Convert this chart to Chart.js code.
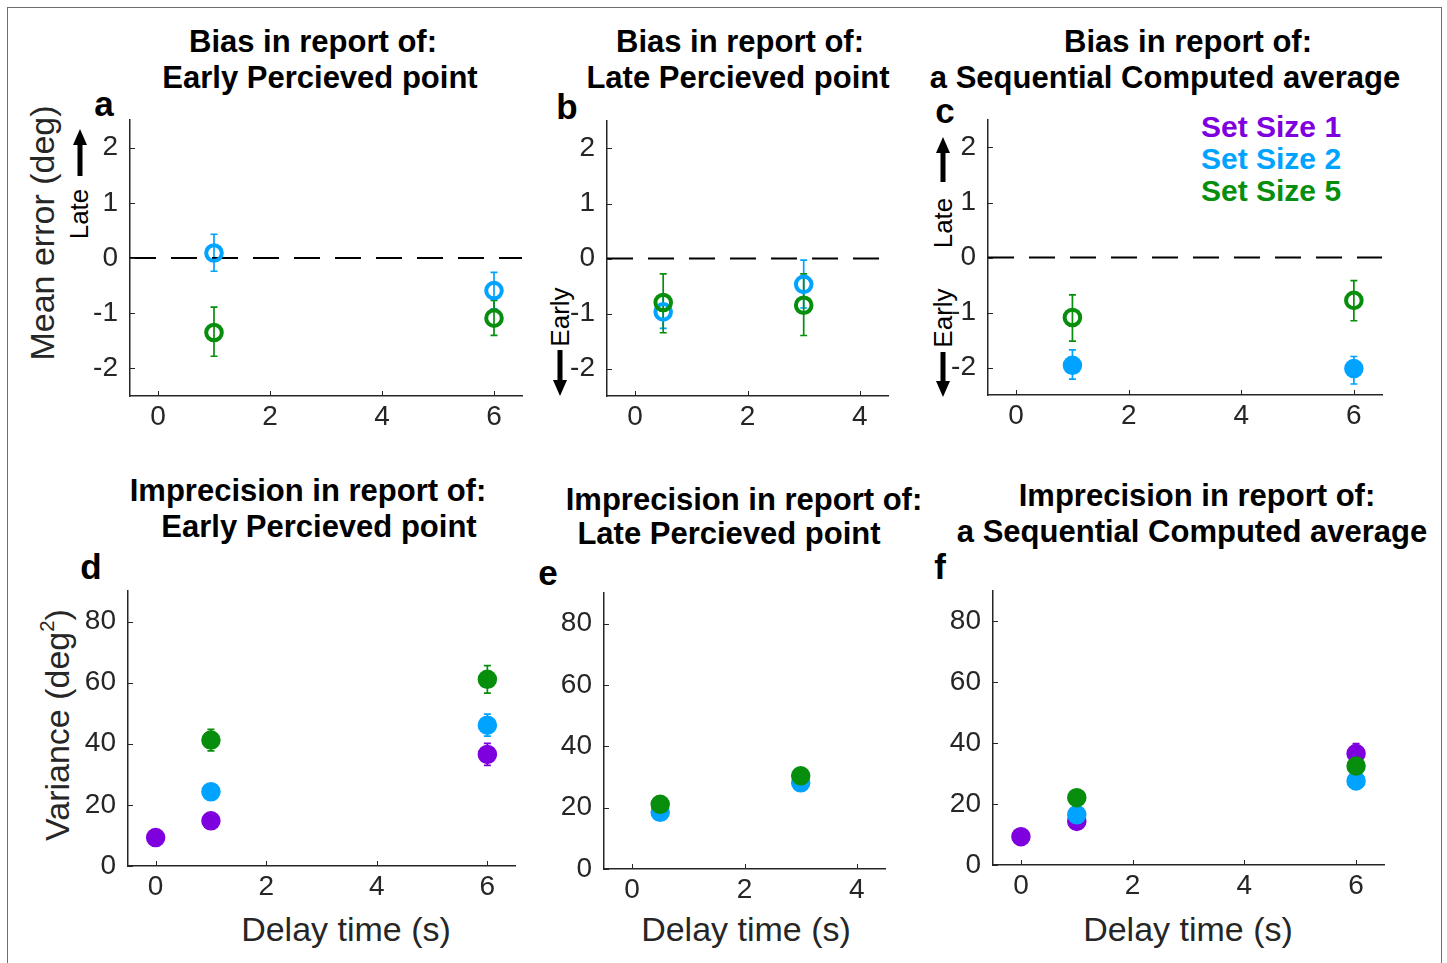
<!DOCTYPE html>
<html>
<head>
<meta charset="utf-8">
<title>Bias and imprecision in report</title>
<script src="https://cdn.jsdelivr.net/npm/chart.js@4.4.1/dist/chart.umd.min.js"></script>
<style>
  html, body { margin: 0; padding: 0; background: #fff; }
  body { width: 1447px; height: 963px; position: relative; overflow: hidden;
         font-family: "Liberation Sans", Arial, sans-serif; color: #000; }
  .frame { position: absolute; left: 7px; top: 7px; width: 1433px; height: 990px; border: 1.5px solid #6e6e6e; }
  .panel { position: absolute; }
  .txt { position: absolute; white-space: nowrap; line-height: 1; transform: translate(-50%, -50%); }
  .title { font-size: 31px; font-weight: bold; }
  .letter { font-size: 35px; font-weight: bold; }
  .axt { font-size: 34px; color: #262626; }
  .rot { transform: translate(-50%, -50%) rotate(-90deg); }
  .dir { font-size: 26px; color: #000; }
  .leg { position: absolute; font-size: 30px; font-weight: bold; line-height: 1; white-space: nowrap; transform: translateY(-50%); }
  sup { font-size: 0.6em; vertical-align: 0.75em; line-height: 0; }
  svg.arrow { position: absolute; overflow: visible; }
</style>
</head>
<body>
<div class="frame"></div>

<!-- top row titles -->
<div class="txt title" style="left:313px; top:41px;">Bias in report of:</div>
<div class="txt title" style="left:320px; top:77px;">Early Percieved point</div>
<div class="txt title" style="left:740px; top:41px;">Bias in report of:</div>
<div class="txt title" style="left:738px; top:77px;">Late Percieved point</div>
<div class="txt title" style="left:1188px; top:41px;">Bias in report of:</div>
<div class="txt title" style="left:1165px; top:77px;">a Sequential Computed average</div>

<!-- bottom row titles -->
<div class="txt title" style="left:308px; top:490px;">Imprecision in report of:</div>
<div class="txt title" style="left:319px; top:526px;">Early Percieved point</div>
<div class="txt title" style="left:744px; top:499px;">Imprecision in report of:</div>
<div class="txt title" style="left:729px; top:533px;">Late Percieved point</div>
<div class="txt title" style="left:1197px; top:495px;">Imprecision in report of:</div>
<div class="txt title" style="left:1192px; top:531px;">a Sequential Computed average</div>

<!-- panel letters -->
<div class="txt letter" style="left:104px; top:103px;">a</div>
<div class="txt letter" style="left:567px; top:106px;">b</div>
<div class="txt letter" style="left:945px; top:110px;">c</div>
<div class="txt letter" style="left:91px; top:566px;">d</div>
<div class="txt letter" style="left:548px; top:572px;">e</div>
<div class="txt letter" style="left:940px; top:566px;">f</div>

<!-- axis titles -->
<div class="txt axt rot" style="left:42px; top:233px;">Mean error (deg)</div>
<div class="txt axt rot" style="left:57px; top:725px;">Variance (deg<sup>2</sup>)</div>
<div class="txt axt" style="left:346px; top:929px;">Delay time (s)</div>
<div class="txt axt" style="left:746px; top:929px;">Delay time (s)</div>
<div class="txt axt" style="left:1188px; top:929px;">Delay time (s)</div>

<!-- direction labels -->
<div class="txt dir rot" style="left:79px; top:214px;">Late</div>
<div class="txt dir rot" style="left:560px; top:317px;">Early</div>
<div class="txt dir rot" style="left:943px; top:223px;">Late</div>
<div class="txt dir rot" style="left:943px; top:318px;">Early</div>

<!-- legend -->
<div class="leg" style="left:1201px; top:127px; color:#7f00df;">Set Size 1</div>
<div class="leg" style="left:1201px; top:159px; color:#00a3ff;">Set Size 2</div>
<div class="leg" style="left:1201px; top:191px; color:#078e0c;">Set Size 5</div>

<div class="panel" id="pa"><canvas></canvas></div>
<div class="panel" id="pb"><canvas></canvas></div>
<div class="panel" id="pc"><canvas></canvas></div>
<div class="panel" id="pd"><canvas></canvas></div>
<div class="panel" id="pe"><canvas></canvas></div>
<div class="panel" id="pf"><canvas></canvas></div>

<script>
// ---- data ----
const BIAS_Y_TICKS = [-2, -1, 0, 1, 2];
const VAR_Y_TICKS  = [0, 20, 40, 60, 80];
const X_TICKS_6 = [0, 2, 4, 6];
const X_TICKS_4 = [0, 2, 4];

// a: bias, early perceived point
const aDelay   = [1, 6];
const aSize2   = [0.09, -0.59];
const aSize2Lo = [-0.24, -0.92];
const aSize2Hi = [0.43, -0.26];
const aSize5   = [-1.35, -1.09];
const aSize5Lo = [-1.78, -1.40];
const aSize5Hi = [-0.89, -0.77];

// b: bias, late perceived point
const bDelay   = [0.5, 3];
const bSize2   = [-0.97, -0.47];
const bSize2Lo = [-1.27, -0.90];
const bSize2Hi = [-0.67, -0.03];
const bSize5   = [-0.80, -0.85];
const bSize5Lo = [-1.35, -1.40];
const bSize5Hi = [-0.28, -0.28];

// c: bias, sequential computed average
const cDelay   = [1, 6];
const cSize2   = [-1.96, -2.02];
const cSize2Lo = [-2.21, -2.30];
const cSize2Hi = [-1.68, -1.80];
const cSize5   = [-1.09, -0.78];
const cSize5Lo = [-1.52, -1.15];
const cSize5Hi = [-0.68, -0.42];

// d: variance, early perceived point
const dDelay1  = [0, 1, 6];
const dSize1   = [9.3, 14.8, 36.5];
const dSize1Er = [1.0, 1.5, 3.6];
const dDelay   = [1, 6];
const dSize2   = [24.3, 46.1];
const dSize2Er = [1.5, 3.6];
const dSize5   = [41.2, 61.1];
const dSize5Er = [3.5, 4.5];

// e: variance, late perceived point
const eDelay   = [0.5, 3];
const eSize2   = [18.5, 28.1];
const eSize2Er = [1.2, 1.5];
const eSize5   = [21.1, 30.4];
const eSize5Er = [1.2, 1.5];

// f: variance, sequential computed average
const fDelay1  = [0, 1, 6];
const fSize1   = [9.3, 14.3, 36.6];
const fSize1Er = [1.0, 1.5, 3.3];
const fDelay   = [1, 6];
const fSize2   = [16.5, 27.6];
const fSize2Er = [1.5, 2.0];
const fSize5   = [22.1, 32.5];
const fSize5Er = [1.5, 2.5];

// ---- styling ----
const PURPLE = "#7f00df", BLUE = "#00a3ff", GREEN = "#078e0c";
const INK = "#262626";
const FONT = "Liberation Sans";

const pts = (xs, ys) => xs.map((x, i) => ({ x, y: ys[i] }));
const minus = (ys, es) => ys.map((v, i) => v - es[i]);
const plus  = (ys, es) => ys.map((v, i) => v + es[i]);

function series(xs, ys, lo, hi, color, filled, order) {
  return {
    data: pts(xs, ys), errLo: lo, errHi: hi, order,
    borderColor: color,
    backgroundColor: filled ? color : "rgba(0,0,0,0)",
    pointBackgroundColor: filled ? color : "rgba(0,0,0,0)",
    pointBorderColor: color,
    pointRadius: filled ? 9 : 7.8,
    pointBorderWidth: filled ? 1.5 : 4,
    pointHoverRadius: filled ? 9 : 7.8,
    showLine: false,
  };
}

function zeroLine(xMin, xMax) {
  return {
    type: "line", order: 10,
    data: [{ x: xMin, y: 0 }, { x: xMax, y: 0 }],
    borderColor: "#000", borderWidth: 2, borderDash: [26, 15],
    pointRadius: 0, fill: false,
  };
}

// error bars, drawn under the markers
const errorBars = {
  id: "errorBars",
  beforeDatasetsDraw(chart) {
    const { ctx, scales: { x, y } } = chart;
    chart.data.datasets.forEach(ds => {
      if (!ds.errLo) return;
      ctx.save();
      ctx.strokeStyle = ds.borderColor;
      ctx.lineWidth = 1.7;
      ds.data.forEach((p, i) => {
        const px = x.getPixelForValue(p.x);
        const lo = y.getPixelForValue(ds.errLo[i]);
        const hi = y.getPixelForValue(ds.errHi[i]);
        ctx.beginPath();
        ctx.moveTo(px, lo); ctx.lineTo(px, hi);
        ctx.moveTo(px - 3.5, lo); ctx.lineTo(px + 3.5, lo);
        ctx.moveTo(px - 3.5, hi); ctx.lineTo(px + 3.5, hi);
        ctx.stroke();
      });
      ctx.restore();
    });
  }
};

// matlab-style tick marks pointing into the axes
const inwardTicks = {
  id: "inwardTicks",
  afterDraw(chart) {
    const { ctx, chartArea: a, scales: { x, y } } = chart;
    ctx.save();
    ctx.strokeStyle = INK;
    ctx.lineWidth = 1;
    ctx.beginPath();
    x.ticks.forEach(t => {
      const px = Math.round(x.getPixelForValue(t.value)) + 0.5;
      ctx.moveTo(px, a.bottom); ctx.lineTo(px, a.bottom - 5);
    });
    y.ticks.forEach(t => {
      const py = Math.round(y.getPixelForValue(t.value)) + 0.5;
      ctx.moveTo(a.left, py); ctx.lineTo(a.left + 5, py);
    });
    ctx.stroke();
    ctx.restore();
  }
};

function makePanel(id, box, xr, yr, xTicks, yTicks, datasets) {
  const padL = 70, padT = 12, padR = 16, padB = 48;
  const wrap = document.getElementById(id);
  wrap.style.left = (box.L - padL) + "px";
  wrap.style.top = (box.T - padT) + "px";
  wrap.style.width = (box.R - box.L + padL + padR) + "px";
  wrap.style.height = (box.B - box.T + padT + padB) + "px";

  const tickFont = { family: FONT, size: 28 };
  return new Chart(wrap.querySelector("canvas"), {
    type: "scatter",
    data: { datasets },
    options: {
      responsive: true,
      maintainAspectRatio: false,
      animation: false,
      events: [],
      layout: { autoPadding: false, padding: { left: 0, top: padT, right: padR, bottom: 0 } },
      plugins: { legend: { display: false }, tooltip: { enabled: false } },
      scales: {
        x: {
          type: "linear", min: xr[0], max: xr[1],
          afterBuildTicks: s => { s.ticks = xTicks.map(v => ({ value: v })); },
          afterFit: s => { s.height = padB; s.paddingLeft = 0; s.paddingRight = 0; },
          grid: { display: false, drawTicks: false },
          border: { display: true, color: INK, width: 1.5 },
          ticks: { color: INK, font: tickFont, padding: 4, maxRotation: 0, autoSkip: false },
        },
        y: {
          type: "linear", min: yr[0], max: yr[1],
          afterBuildTicks: s => { s.ticks = yTicks.map(v => ({ value: v })); },
          afterFit: s => { s.width = padL; s.paddingTop = 0; s.paddingBottom = 0; },
          grid: { display: false, drawTicks: false },
          border: { display: true, color: INK, width: 1.5 },
          ticks: { color: INK, font: tickFont, padding: 12, autoSkip: false },
        },
      },
    },
    plugins: [errorBars, inwardTicks],
  });
}

// ---- panels ----
makePanel("pa", { L: 130, T: 120, R: 522, B: 396 }, [-0.5, 6.5], [-2.5, 2.5], X_TICKS_6, BIAS_Y_TICKS, [
  zeroLine(-0.5, 6.5),
  series(aDelay, aSize2, aSize2Lo, aSize2Hi, BLUE, false, 2),
  series(aDelay, aSize5, aSize5Lo, aSize5Hi, GREEN, false, 1),
]);

makePanel("pb", { L: 607, T: 121, R: 888, B: 396 }, [-0.5, 4.5], [-2.5, 2.5], X_TICKS_4, BIAS_Y_TICKS, [
  zeroLine(-0.5, 4.35),
  series(bDelay, bSize2, bSize2Lo, bSize2Hi, BLUE, false, 2),
  series(bDelay, bSize5, bSize5Lo, bSize5Hi, GREEN, false, 1),
]);

makePanel("pc", { L: 988, T: 120, R: 1382, B: 395 }, [-0.5, 6.5], [-2.5, 2.5], X_TICKS_6, BIAS_Y_TICKS, [
  zeroLine(-0.5, 6.5),
  series(cDelay, cSize2, cSize2Lo, cSize2Hi, BLUE, true, 2),
  series(cDelay, cSize5, cSize5Lo, cSize5Hi, GREEN, false, 1),
]);

makePanel("pd", { L: 128, T: 591, R: 515, B: 866 }, [-0.5, 6.5], [0, 90], X_TICKS_6, VAR_Y_TICKS, [
  series(dDelay1, dSize1, minus(dSize1, dSize1Er), plus(dSize1, dSize1Er), PURPLE, true, 3),
  series(dDelay, dSize2, minus(dSize2, dSize2Er), plus(dSize2, dSize2Er), BLUE, true, 2),
  series(dDelay, dSize5, minus(dSize5, dSize5Er), plus(dSize5, dSize5Er), GREEN, true, 1),
]);

makePanel("pe", { L: 604, T: 593, R: 885, B: 869 }, [-0.5, 4.5], [0, 90], X_TICKS_4, VAR_Y_TICKS, [
  series(eDelay, eSize2, minus(eSize2, eSize2Er), plus(eSize2, eSize2Er), BLUE, true, 2),
  series(eDelay, eSize5, minus(eSize5, eSize5Er), plus(eSize5, eSize5Er), GREEN, true, 1),
]);

makePanel("pf", { L: 993, T: 591, R: 1384, B: 865 }, [-0.5, 6.5], [0, 90], X_TICKS_6, VAR_Y_TICKS, [
  series(fDelay1, fSize1, minus(fSize1, fSize1Er), plus(fSize1, fSize1Er), PURPLE, true, 3),
  series(fDelay, fSize2, minus(fSize2, fSize2Er), plus(fSize2, fSize2Er), BLUE, true, 2),
  series(fDelay, fSize5, minus(fSize5, fSize5Er), plus(fSize5, fSize5Er), GREEN, true, 1),
]);

// ---- Late / Early arrows ----
function arrow(x, yTail, yTip) {
  const ns = "http://www.w3.org/2000/svg";
  const svg = document.createElementNS(ns, "svg");
  const top = Math.min(yTail, yTip), h = Math.abs(yTip - yTail);
  svg.setAttribute("class", "arrow");
  svg.setAttribute("width", 16);
  svg.setAttribute("height", h);
  svg.style.left = (x - 8) + "px";
  svg.style.top = top + "px";
  const head = 16, up = yTip < yTail;
  const poly = document.createElementNS(ns, "polygon");
  const p = up
    ? [[8, 0], [15, head], [10.5, head], [10.5, h], [5.5, h], [5.5, head], [1, head]]
    : [[8, h], [15, h - head], [10.5, h - head], [10.5, 0], [5.5, 0], [5.5, h - head], [1, h - head]];
  poly.setAttribute("points", p.map(q => q.join(",")).join(" "));
  poly.setAttribute("fill", "#000");
  svg.appendChild(poly);
  document.body.appendChild(svg);
}
arrow(80, 176, 129);
arrow(560, 350, 396);
arrow(943, 182, 137);
arrow(943, 352, 397);
</script>
</body>
</html>
